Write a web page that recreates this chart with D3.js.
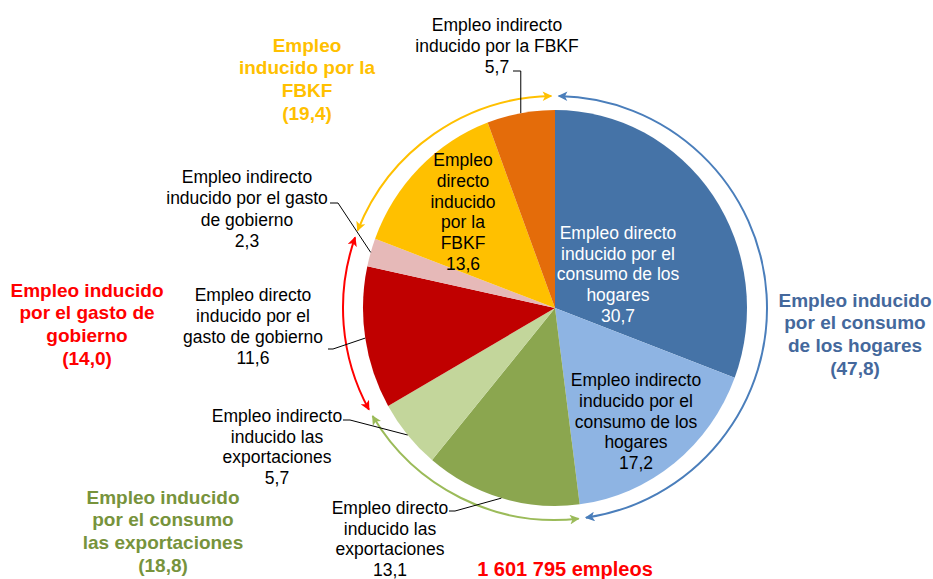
<!DOCTYPE html>
<html>
<head>
<meta charset="utf-8">
<style>
    body { margin: 0; background: #fff; }
    svg { font-family: 'Liberation Sans', Arial, Helvetica, sans-serif; }
    .lbl { font-size: 17.5px; }
    .grp { font-size: 19px; font-weight: bold; }
    .total { font-size: 20px; font-weight: bold; }
</style>
</head>
<body>
<svg width="933" height="579"></svg>

<script src="https://d3js.org/d3.v7.min.js"></script>
<script>
    // slices, clockwise from 12 o'clock
    let sliceValues = [30.7, 17.2, 13.1, 5.7, 11.6, 2.3, 13.6, 5.7]
    let sliceText = [
        ["Empleo directo", "inducido por el", "consumo de los", "hogares"],
        ["Empleo indirecto", "inducido por el", "consumo de los", "hogares"],
        ["Empleo directo", "inducido las", "exportaciones"],
        ["Empleo indirecto", "inducido las", "exportaciones"],
        ["Empleo directo", "inducido por el", "gasto de gobierno"],
        ["Empleo indirecto", "inducido por el gasto", "de gobierno"],
        ["Empleo", "directo", "inducido", "por la", "FBKF"],
        ["Empleo indirecto", "inducido por la FBKF"]
    ]
    let sliceColors = ["#4573a7", "#8eb4e3", "#8ba64f", "#c3d69b", "#c00000", "#e6b9b8", "#ffc000", "#e46c0a"]

    // groups (sum of slices) shown with the outer arrows
    let groupSlices = [[0, 1], [2, 3], [4, 5], [6, 7]]
    let groupValues = [47.8, 18.8, 14.0, 19.4]
    let groupText = [
        ["Empleo inducido", "por el consumo", "de los hogares"],
        ["Empleo inducido", "por el consumo", "las exportaciones"],
        ["Empleo inducido", "por el gasto de", "gobierno"],
        ["Empleo", "inducido por la", "FBKF"]
    ]
    let groupColors = ["#4a7ebb", "#9bbb59", "#ff0000", "#ffc000"]
    let groupTextColors = ["#44689c", "#77933c", "#ff0000", "#ffc000"]

    let totalText = "1 601 795 empleos"

    // ---- layout ----
    let cx = 555, cy = 308, rx = 192, ry = 198, arrowR = 212

    // label placement: x centre, y middle of first line, line height, text colour, leader start + kink
    let sliceLayout = [
        { x: 618, y: 233, lh: 20.7, fill: "#fff" },
        { x: 636, y: 380, lh: 20.8, fill: "#000" },
        { x: 390, y: 508, lh: 20.5, fill: "#000", from: [449, 511], kink: 6 },
        { x: 277, y: 416, lh: 20.5, fill: "#000", from: [343, 420], kink: 7 },
        { x: 253, y: 295, lh: 21, fill: "#000", from: [328, 349], kink: 5 },
        { x: 247, y: 177, lh: 21.3, fill: "#000", from: [330, 203], kink: 8 },
        { x: 463, y: 160, lh: 20.8, fill: "#000" },
        { x: 497, y: 25, lh: 21, fill: "#000", from: [513, 71], vertical: true }
    ]
    let groupLayout = [
        { x: 855, y: 300 },
        { x: 163, y: 497 },
        { x: 87, y: 290 },
        { x: 307, y: 45 }
    ]

    let fmt = v => d3.format(".1f")(v).replace(".", ",")

    let svg = d3.select("svg")

    let pie = d3.pie().sort(null).value(d => d)
    let arcs = pie(sliceValues)
    let arc = d3.arc().innerRadius(0).outerRadius(rx)

    let edge = a => [cx + rx * Math.sin(a), cy - ry * Math.cos(a)]

    // pie slices (slightly taller than wide, like the original)
    svg.append("g")
        .attr("transform", `translate(${cx},${cy}) scale(1,${ry / rx})`)
        .selectAll("path")
        .data(arcs)
        .join("path")
        .attr("d", arc)
        .attr("fill", (d, i) => sliceColors[i])

    // arrow heads
    let defs = svg.append("defs")
    groupColors.forEach((c, i) => {
        defs.append("marker")
            .attr("id", "arr" + i)
            .attr("viewBox", "0 0 10 10")
            .attr("refX", 9)
            .attr("refY", 5)
            .attr("markerWidth", 5.2)
            .attr("markerHeight", 4.8)
            .attr("orient", "auto-start-reverse")
            .append("path")
            .attr("d", "M0,0 L10,5 L0,10 L2.5,5 z")
            .attr("fill", c)
    })

    // outer arrows around each group
    let pad = 1 * Math.PI / 180
    groupSlices.forEach((s, i) => {
        let a0 = arcs[s[0]].startAngle + pad
        let a1 = arcs[s[s.length - 1]].endAngle - pad
        let p = d3.path()
        p.moveTo(cx + arrowR * Math.sin(a0), cy - arrowR * Math.cos(a0))
        p.arc(cx, cy, arrowR, a0 - Math.PI / 2, a1 - Math.PI / 2)
        svg.append("path")
            .attr("d", p.toString())
            .attr("fill", "none")
            .attr("stroke", groupColors[i])
            .attr("stroke-width", 2)
            .attr("marker-start", `url(#arr${i})`)
            .attr("marker-end", `url(#arr${i})`)
    })

    // leader lines
    arcs.forEach((d, i) => {
        let L = sliceLayout[i]
        if (!L.from) return
        let mid = (d.startAngle + d.endAngle) / 2
        let e = edge(mid)
        let pts = L.vertical
            ? [L.from, [e[0], L.from[1]], e]
            : [L.from, [L.from[0] + L.kink, L.from[1]], e]
        svg.append("path")
            .attr("d", d3.line()(pts))
            .attr("fill", "none")
            .attr("stroke", "#000")
            .attr("stroke-width", 1)
    })

    // slice labels
    arcs.forEach((d, i) => {
        let L = sliceLayout[i]
        let lines = sliceText[i].concat([fmt(sliceValues[i])])
        let t = svg.append("text")
            .attr("class", "lbl")
            .attr("text-anchor", "middle")
            .attr("fill", L.fill)
        lines.forEach((s, j) => {
            t.append("tspan")
                .attr("x", L.x)
                .attr("y", L.y + 6 + j * L.lh)
                .text(s)
        })
    })

    // group labels
    groupText.forEach((g, i) => {
        let L = groupLayout[i]
        let lines = g.concat(["(" + fmt(groupValues[i]) + ")"])
        let t = svg.append("text")
            .attr("class", "grp")
            .attr("text-anchor", "middle")
            .attr("fill", groupTextColors[i])
        lines.forEach((s, j) => {
            t.append("tspan")
                .attr("x", L.x)
                .attr("y", L.y + 6.5 + j * 22.8)
                .text(s)
        })
    })

    svg.append("text")
        .attr("class", "total")
        .attr("text-anchor", "middle")
        .attr("x", 565)
        .attr("y", 576)
        .attr("fill", "#ff0000")
        .text(totalText)
</script>
</body>
</html>
